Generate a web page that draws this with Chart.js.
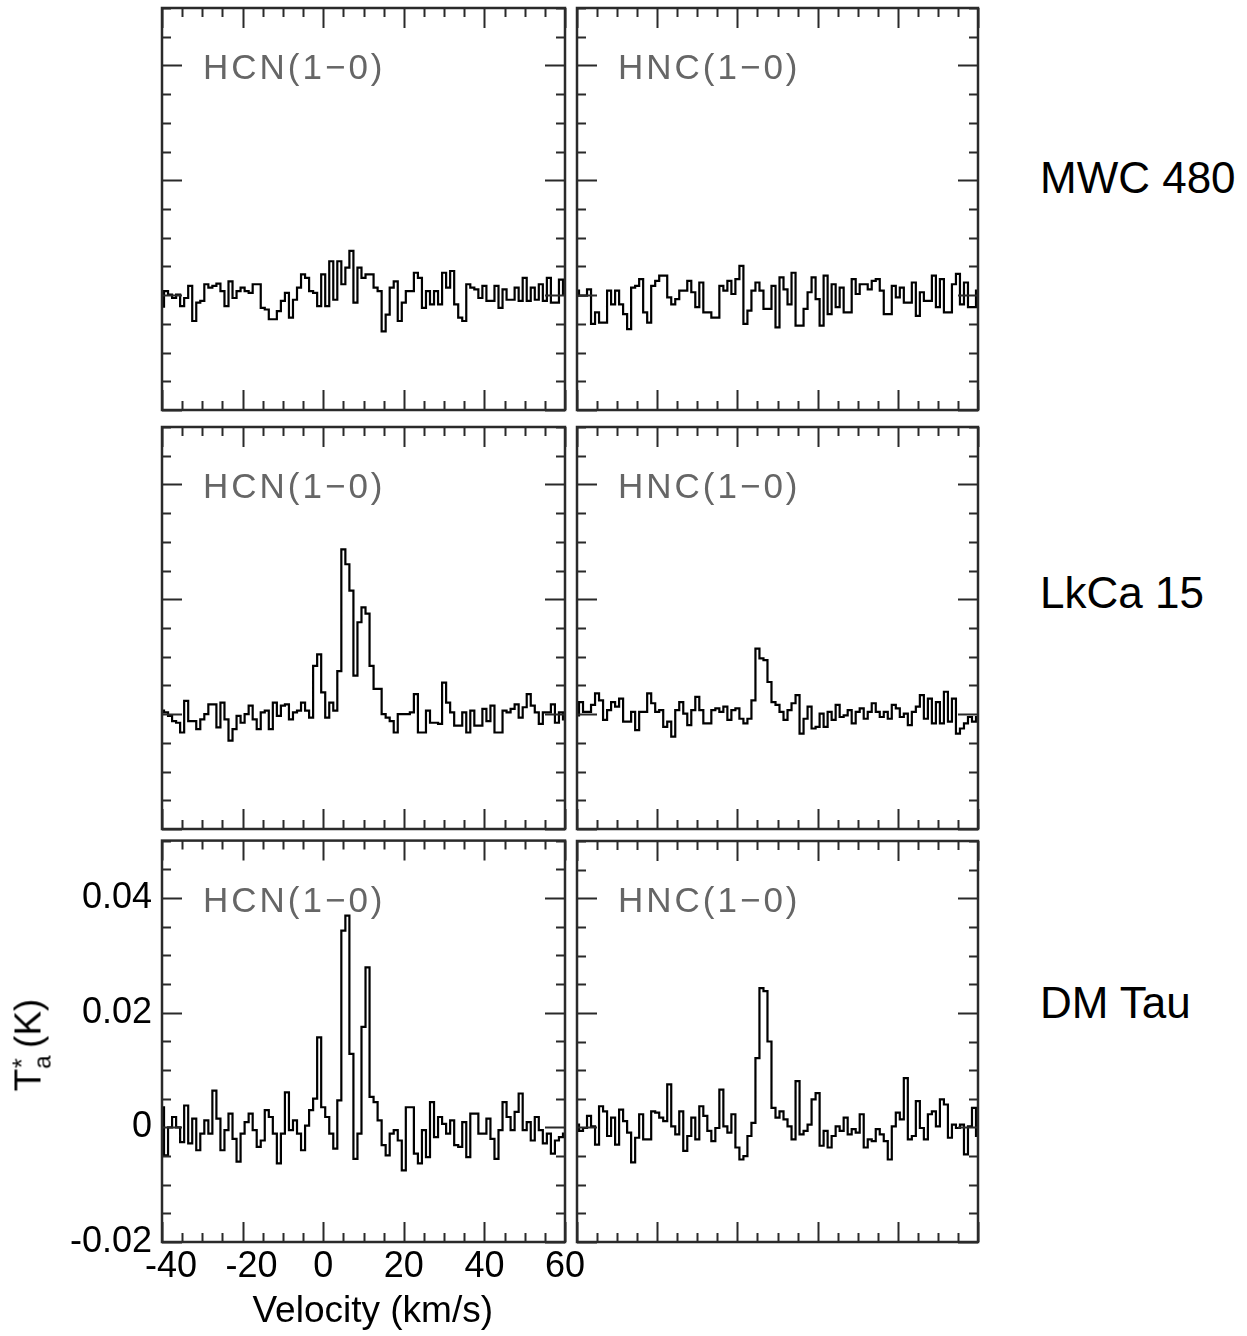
<!DOCTYPE html>
<html lang="en">
<head>
  <meta charset="UTF-8">
  <title>HCN / HNC spectra</title>
  <script src="https://cdn.jsdelivr.net/npm/chart.js"></script>
  <style>
    body { margin: 0; background: #fff; width: 1247px; height: 1336px; position: relative; overflow: hidden;
           font-family: "Liberation Sans", Arial, sans-serif; }
    canvas { position: absolute; }
    .source { position: absolute; left: 1040px; font-size: 44px; line-height: 44px; color: #000; white-space: nowrap; }
    #ytitle { position: absolute; left: 32px; top: 1045px; font-size: 37px; line-height: 37px; white-space: nowrap;
              transform: translate(-50%, -50%) rotate(-90deg); }
    #ytitle sub { font-size: 24px; vertical-align: -10px; }
    #ytitle sup { font-size: 26px; vertical-align: 10px; margin-left: -13px; }
  </style>
</head>
<body>
<canvas id="p0"></canvas>
<canvas id="p1"></canvas>
<canvas id="p2"></canvas>
<canvas id="p3"></canvas>
<canvas id="p5"></canvas>
<canvas id="p4"></canvas>
<div class="source" style="top:156px">MWC 480</div>
<div class="source" style="top:571px">LkCa 15</div>
<div class="source" style="top:981px">DM Tau</div>
<div id="ytitle">T<sub>a</sub><sup>*</sup> (K)</div>

<script>
  // channel velocities (km/s)
  const velocity = [
    -40, -39, -38, -37, -36, -35, -34, -33, -32, -31,
    -30, -29, -28, -27, -26, -25, -24, -23, -22, -21,
    -20, -19, -18, -17, -16, -15, -14, -13, -12, -11,
    -10, -9, -8, -7, -6, -5, -4, -3, -2, -1,
    0, 1, 2, 3, 4, 5, 6, 7, 8, 9,
    10, 11, 12, 13, 14, 15, 16, 17, 18, 19,
    20, 21, 22, 23, 24, 25, 26, 27, 28, 29,
    30, 31, 32, 33, 34, 35, 36, 37, 38, 39,
    40, 41, 42, 43, 44, 45, 46, 47, 48, 49,
    50, 51, 52, 53, 54, 55, 56, 57, 58, 59,
    60
  ];

  // Ta* (K) per channel
  const hcnMwc480 = [
    -0.002, 0.0007, 0.0001, -0.0005, 0.0001, -0.0019, -0.0005, 0.0016, -0.0045, -0.0013,
    -0.001, 0.0019, 0.0013, 0.0016, 0.002, 0.0007, -0.0019, 0.0024, -0.0005, 0.0007,
    0.0013, 0.0007, 0.0004, 0.0019, 0.0019, -0.0022, -0.0025, -0.0042, -0.0042, -0.0028,
    -0.001, 0.0004, -0.0039, -0.0008, 0.0013, 0.0036, 0.003, 0.0007, 0.0004, -0.0019,
    0.0036, -0.0019, 0.0059, -0.0008, 0.0059, 0.0019, 0.0048, 0.0077, -0.0013, 0.0048,
    0.003, 0.0036, 0.0036, 0.0013, 0.0007, -0.0063, -0.0034, 0.0013, 0.0024, -0.0045,
    -0.0013, 0.0007, 0.0007, 0.0039, 0.003, -0.0022, 0.0007, -0.0016, 0.0007, -0.0016,
    0.0039, 0.0013, 0.0042, -0.0016, -0.0039, -0.0045, 0.0019, 0.0013, 0.001, -0.0005,
    0.0016, -0.001, -0.001, 0.0016, -0.0022, 0.001, -0.0008, -0.0008, 0.0013, -0.001,
    0.003, -0.001, 0.0013, -0.0008, 0.0019, -0.001, 0.003, -0.0013, -0.0013, 0.0027,
    0.0001
  ];
  const hncMwc480 = [
    0.0008, -0.0001, -0.0001, 0.001, -0.005, -0.003, -0.0048, -0.0048, 0.0008, -0.0016,
    0.0008, -0.0016, -0.0033, -0.0059, 0.0013, 0.0016, 0.0028, -0.003, -0.0048, 0.0016,
    0.0025, 0.0034, 0.0034, -0.0004, -0.0016, -0.0007, 0.0008, 0.0008, 0.0025, 0.0005,
    -0.0021, 0.0022, -0.003, -0.003, -0.0039, -0.0039, 0.0016, 0.0008, 0.0025, 0.0002,
    0.0028, 0.0051, -0.005, -0.0027, 0.0008, 0.0022, 0.0008, -0.0024, -0.0024, 0.0016,
    -0.0056, 0.0031, 0.001, -0.0016, 0.0039, -0.0053, -0.0053, -0.0024, 0.0005, 0.0031,
    -0.0007, -0.0053, 0.0034, -0.0033, 0.0019, -0.0021, 0.0013, -0.003, -0.003, 0.0028,
    0.0002, 0.0019, 0.0019, 0.001, 0.0025, 0.0028, 0.0008, -0.0033, -0.0033, 0.0016,
    -0.0004, 0.0013, -0.0013, -0.0013, 0.0022, -0.0036, 0.0005, -0.001, -0.001, 0.0034,
    -0.0021, 0.0028, -0.003, -0.003, 0.0019, 0.0037, -0.0016, 0.0022, -0.0021, -0.0021,
    0.0008
  ];
  const hcnLkCa15 = [
    0.0006, 0.0003, -0.0003, -0.0012, -0.0015, -0.0032, 0.0023, -0.0012, -0.0012, -0.0026,
    -0.0009, 0, 0.0017, 0.0017, -0.0023, 0.002, -0.0009, -0.0046, -0.0026, -0.0003,
    -0.0015, 0, 0.0015, -0.0009, -0.0026, 0.0003, 0.0006, -0.0026, 0.002, -0.0003,
    0.0015, 0.0017, -0.0009, 0.0003, 0.0006, 0.002, 0.0006, -0.0006, 0.0084, 0.0104,
    0.0038, -0.0006, 0.002, 0.0006, 0.0075, 0.0287, 0.0261, 0.0215, 0.0067, 0.016,
    0.0186, 0.0175, 0.0084, 0.0044, 0.0044, 0, -0.0006, -0.0012, -0.0032, 0,
    0, 0, 0.0003, 0.0035, -0.0032, -0.0032, 0.0006, -0.0015, -0.0015, -0.0017,
    0.0055, 0.002, 0.0003, -0.002, -0.002, 0.0003, -0.0032, 0.0006, -0.002, -0.002,
    0.0009, -0.0012, 0.0015, -0.0032, -0.0032, 0.0006, 0.0003, 0.0009, 0.0017, -0.0006,
    0.0012, 0.0035, 0.0015, 0.0003, -0.0017, 0.0003, 0.0003, 0.0017, -0.0015, 0.0003,
    -0.0009
  ];
  const hncLkCa15 = [
    -0.0002, 0.0021, 0.0004, 0.0004, 0.0016, 0.0036, 0.0024, -0.001, 0.0007, 0.0021,
    0.0013, 0.0027, -0.0013, -0.0013, 0.0004, -0.0028, 0.0004, 0.0004, 0.0036, 0.0019,
    0.0004, 0.0007, -0.0022, -0.0013, -0.0039, 0.0007, 0.0021, 0.0001, -0.0019, 0.0007,
    0.003, 0.0007, -0.0016, -0.0016, 0.0007, 0.001, 0.0004, 0.0013, -0.001, 0.0007,
    0.001, -0.0008, -0.0016, -0.0008, 0.0024, 0.0114, 0.0097, 0.0094, 0.0056, 0.0021,
    0.0016, 0.0004, -0.001, 0.0007, 0.0019, 0.0033, -0.0034, -0.0008, 0.0013, -0.0025,
    -0.0022, 0.0001, -0.0022, 0.0004, -0.001, 0.0016, -0.0005, -0.0002, 0.0007, -0.0016,
    0.0004, 0.001, -0.0008, 0.0004, 0.0019, 0.0004, -0.0005, 0.0004, -0.0008, 0.0016,
    0.001, -0.0005, 0.0001, -0.0019, 0.0004, 0.0013, 0.0033, -0.0008, 0.0027, -0.0016,
    0.0021, -0.0016, 0.0039, -0.0013, 0.0027, -0.0034, -0.0025, -0.0016, -0.0005, -0.0013,
    -0.0005
  ];
  const hcnDmTau = [
    0.0035, -0.0049, 0, 0.0018, 0, -0.0026, 0.0038, -0.0028, 0.0015, -0.004,
    -0.0011, 0.0012, -0.0011, 0.0064, 0.0015, -0.004, -0.0005, 0.0024, -0.002, -0.006,
    -0.0011, 0.0009, 0.0024, -0.0005, -0.0034, -0.0023, 0.003, 0.0018, -0.0011, -0.0063,
    -0.0011, 0.0061, -0.0005, 0.0012, -0.0011, -0.004, 0.0003, 0.003, 0.005, 0.0157,
    0.0035, 0.0018, -0.0011, -0.0037, 0.0047, 0.0343, 0.0369, 0.0128, -0.0055, -0.0011,
    0.0175, 0.0279, 0.0053, 0.0044, 0.0012, -0.0031, -0.0049, -0.0011, -0.0005, -0.0023,
    -0.0075, 0.0035, 0.0035, -0.0046, -0.0063, -0.0005, -0.0052, 0.0044, -0.0017, 0.0018,
    0.0006, -0.0011, 0.0012, -0.0031, -0.0034, 0.0009, -0.0052, 0.0024, 0.0024, -0.0011,
    -0.0011, 0.0015, -0.002, -0.0055, -0.0005, 0.0044, 0.0018, -0.0005, 0.0027, 0.0059,
    -0.0005, 0.0009, -0.0023, 0.0018, -0.0005, -0.0028, -0.0011, -0.0046, -0.0023, -0.0017,
    -0.0011
  ];
  const hncDmTau = [
    0.0005, -0.0006, -0.0001, 0.002, 0.0002, -0.003, 0.0037, 0.0028, -0.0015, 0.0017,
    -0.003, 0.0031, 0.0011, -0.0009, -0.0061, -0.0018, 0.0023, -0.0021, -0.0021, 0.0028,
    0.0026, 0.0017, 0.0011, 0.0075, 0.0002, -0.0012, 0.0028, -0.0041, -0.0015, 0.0017,
    -0.0021, 0.0037, 0.002, -0.0006, -0.0024, -0.0001, 0.0066, 0.0002, -0.0009, 0.0023,
    -0.0035, -0.0056, -0.005, -0.0015, 0.0008, 0.0121, 0.0243, 0.0238, 0.015, 0.0034,
    0.0017, 0.0028, 0.0014, 0.0002, -0.0021, 0.0081, -0.0012, -0.0006, 0.0005, 0.0049,
    0.006, -0.0032, -0.0006, -0.0035, -0.0015, 0.0002, -0.0006, 0.0017, -0.0012, -0.0003,
    -0.0009, 0.0023, -0.0035, -0.0021, -0.0024, -0.0003, -0.0012, -0.0024, -0.0056, 0.0002,
    0.0026, 0.0014, 0.0086, -0.0021, -0.0015, 0.0046, -0.0001, -0.0021, 0.0023, 0.0028,
    0.0002, 0.0049, 0.004, -0.0018, 0.0005, -0.0001, 0.0005, -0.0047, 0.0002, 0.0034,
    -0.0015
  ];

  // axis ticks
  const xTicks = [-40, -35, -30, -25, -20, -15, -10, -5, 0, 5, 10, 15, 20, 25, 30, 35, 40, 45, 50, 55, 60];
  const xTickLabels = [-40, -20, 0, 20, 40, 60];
  const yTicks = [-0.02, -0.015, -0.01, -0.005, 0, 0.005, 0.01, 0.015, 0.02, 0.025, 0.03, 0.035, 0.04, 0.045, 0.05];
  const yTickLabels = [-0.02, 0, 0.02, 0.04];

  const lineNames = ['HCN(1\u22120)', 'HNC(1\u22120)'];
  const spectra = [
    [hcnMwc480, hncMwc480],
    [hcnLkCa15, hncLkCa15],
    [hcnDmTau, hncDmTau]
  ];

  // panel plot-area edges (px)
  const colLeft = [162, 577], colRight = [565, 978];
  const rowTop = [8, 427, 841], rowBottom = [410, 829, 1242];
  const PAD = 4;
  const LABEL_TOP_SHIFT = 28; // room chart.js keeps above the area for the tick labels

  // box + inward ticks on all four sides, plus the line name
  const framePlugin = {
    id: 'frame',
    afterDatasetsDraw(chart, args, opts) {
      const {ctx, chartArea: a, scales: {x, y}} = chart;
      ctx.save();
      ctx.strokeStyle = '#2a2a2a';
      ctx.lineWidth = 2;
      ctx.beginPath();
      xTicks.forEach(v => {
        const px = Math.round(x.getPixelForValue(v)) + 0.5;
        const len = v % 20 === 0 ? 20 : 9;
        ctx.moveTo(px, a.top); ctx.lineTo(px, a.top + len);
        ctx.moveTo(px, a.bottom); ctx.lineTo(px, a.bottom - len);
      });
      yTicks.forEach(v => {
        const py = Math.round(y.getPixelForValue(v)) + 0.5;
        const major = Math.abs(v / 0.02 - Math.round(v / 0.02)) < 1e-6;
        const len = major ? 20 : 9;
        ctx.moveTo(a.left, py); ctx.lineTo(a.left + len, py);
        ctx.moveTo(a.right, py); ctx.lineTo(a.right - len, py);
      });
      ctx.stroke();
      ctx.lineWidth = 2.5;
      ctx.strokeRect(a.left, a.top, a.right - a.left, a.bottom - a.top);
      ctx.font = '35px "Liberation Sans", Arial, sans-serif';
      ctx.fillStyle = '#666';
      ctx.letterSpacing = '3px';
      ctx.textBaseline = 'alphabetic';
      ctx.fillText(opts.label, a.left + 41, a.top + 71);
      ctx.restore();
    }
  };

  function makePanel(row, col) {
    const id = 'p' + (row * 2 + col);
    const canvas = document.getElementById(id);
    const withAxes = row === 2 && col === 0;
    const L = colLeft[col], R = colRight[col], T = rowTop[row], B = rowBottom[row];

    let left, top, width, height, padding;
    if (withAxes) {
      left = 0; top = T - PAD - LABEL_TOP_SHIFT; width = 600; height = 1336 - top;
      padding = {left: 0, top: PAD, right: width - R, bottom: 2};
    } else {
      left = L - PAD; top = T - PAD; width = R - L + 2 * PAD; height = B - T + 2 * PAD;
      padding = PAD;
    }
    canvas.width = width; canvas.height = height;
    canvas.style.left = left + 'px'; canvas.style.top = top + 'px';

    const values = spectra[row][col];
    const tickFont = {family: '"Liberation Sans", Arial, sans-serif', size: 36};

    new Chart(canvas, {
      type: 'line',
      data: {
        datasets: [{
          data: velocity.map((v, i) => ({x: v, y: values[i]})),
          borderColor: '#000',
          borderWidth: 2.2,
          stepped: 'middle',
          pointRadius: 0,
          fill: false
        }]
      },
      options: {
        responsive: false,
        animation: false,
        events: [],
        layout: {padding: padding},
        plugins: {legend: {display: false}, tooltip: {enabled: false}, frame: {label: lineNames[col]}},
        scales: {
          x: {
            type: 'linear', min: -40, max: 60,
            display: withAxes,
            grid: {display: false, drawTicks: false},
            border: {display: false},
            afterBuildTicks: s => { s.ticks = xTickLabels.map(v => ({value: v})); },
            afterFit: s => { if (withAxes) s.height = 1336 - 2 - B; },
            // negative labels are centred on their digits, not on the minus sign
            ticks: {color: '#000', font: tickFont, padding: 3, maxRotation: 0, autoSkip: false,
                    callback: v => v < 0 ? '\u2002' + String(v) : String(v)},
            title: {display: true, text: '\u2002Velocity (km/s)', color: '#000', padding: 0,
                    font: {family: '"Liberation Sans", Arial, sans-serif', size: 37}}
          },
          y: {
            type: 'linear', min: -0.02, max: 0.05,
            display: withAxes,
            grid: {display: false, drawTicks: false},
            border: {display: false},
            afterBuildTicks: s => { s.ticks = yTickLabels.map(v => ({value: v})); },
            afterFit: s => { if (withAxes) s.width = L; },
            ticks: {color: '#000', font: tickFont, padding: 10, autoSkip: false,
                    callback: v => String(v)}
          }
        }
      },
      plugins: [framePlugin]
    });
  }

  for (let r = 0; r < 3; r++) {
    for (let c = 0; c < 2; c++) makePanel(r, c);
  }
</script>
</body>
</html>
